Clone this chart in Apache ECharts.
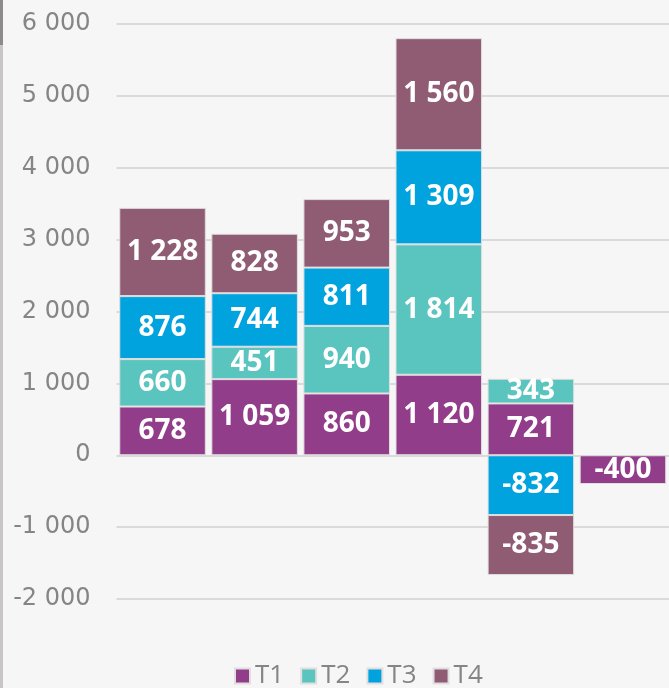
<!DOCTYPE html>
<html><head><meta charset="utf-8">
<script src="https://cdn.jsdelivr.net/npm/echarts@6/dist/echarts.min.js"></script>
<style>html,body{margin:0;padding:0;background:#f7f6f6;}#c{width:669px;height:688px;}</style>
</head><body><div id="c"></div>
<script>
var categories = ['A','B','C','D','E','F'];
var t1 = [678, 1059, 860, 1120, 721, -400];
var t2 = [660, 451, 940, 1814, 343, null];
var t3 = [876, 744, 811, 1309, -832, null];
var t4 = [1228, 828, 953, 1560, -835, null];
var seriesNames = ['T1','T2','T3','T4'];
var colors = ['#923d8a', '#5ac5bf', '#00a3dd', '#8f5c74'];

function fmt(v){
  var s = Math.abs(v).toString().replace(/\B(?=(\d{3})+(?!\d))/g, ' ');
  return (v < 0 ? '-' : '') + s;
}
var chart = echarts.init(document.getElementById('c'));
var data = [t1, t2, t3, t4];
chart.setOption({
  backgroundColor: '#f7f6f6',
  animation: false,
  color: colors,
  grid: {left: 116.5, right: -3.5, top: 24, bottom: 89},
  graphic: [
    {type:'rect', shape:{x:0,y:0,width:3,height:688}, style:{fill:'#c9c6c6'}, silent:true},
    {type:'rect', shape:{x:0,y:0,width:3,height:45}, style:{fill:'#8e8a8b'}, silent:true}
  ],
  legend: {
    data: seriesNames, bottom: -6, left: 229,
    itemWidth: 15, itemHeight: 15, itemGap: 16, icon: 'rect',
    textStyle: {color: '#858585', fontSize: 26, fontFamily: 'Open Sans'}
  },
  xAxis: {
    type: 'category', data: categories,
    axisLine: {show: false}, axisTick: {show: false}, axisLabel: {show: false}
  },
  yAxis: {
    type: 'value', min: -2000, max: 6000, interval: 1000,
    axisLine: {show: false}, axisTick: {show: false},
    axisLabel: {color: '#858585', fontSize: 24, fontFamily: 'DejaVu Sans', fontWeight: 'normal', margin: 26, formatter: fmt},
    splitLine: {lineStyle: {color: '#dadada', width: 2}}
  },
  series: data.map(function(d, i){
    return {
      name: seriesNames[i], type: 'bar', stack: 'total', data: d,
      barCategoryGap: '6%',
      itemStyle: {color: colors[i], borderColor: '#e0dede', borderWidth: 1},
      label: {show: true, position: 'inside', color: '#fff', fontSize: 28, fontWeight: 'bold', fontFamily: 'Open Sans',
        formatter: function(p){ return p.value == null ? '' : fmt(p.value); }}
    };
  })
});
</script></body></html>
